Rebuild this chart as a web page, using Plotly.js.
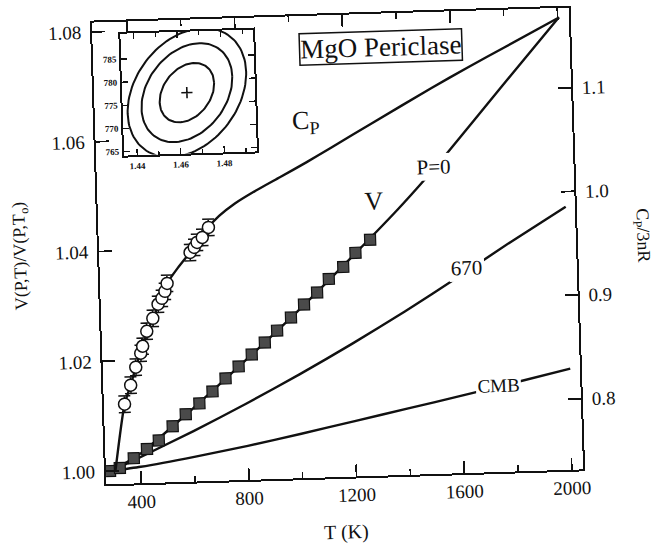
<!DOCTYPE html>
<html>
<head>
<meta charset="utf-8">
<script src="https://cdn.plot.ly/plotly-3.0.1.min.js"></script>
<style>
  html, body { margin:0; padding:0; background:#fff; overflow:hidden; }
  #plot { width:657px; height:550px; transform: rotate(-1.8deg); transform-origin: 337px 247px; }
</style>
</head>
<body>
<div id="plot"></div>
<script>
// ---- data ----
// V data (filled squares), left axis
const T_sq = [285, 322, 375, 425, 470, 523, 573, 625, 675, 725, 775, 825, 875, 922, 975, 1025, 1075, 1120, 1175, 1222, 1278];
const V_sq = [1.0000, 1.0005, 1.0022, 1.0038, 1.0053, 1.0078, 1.0099, 1.0118, 1.0139, 1.0162, 1.0183, 1.0204, 1.0225, 1.0246, 1.0269, 1.0292, 1.0313, 1.0337, 1.0358, 1.0383, 1.0406];

// P=0 curve, left axis
const T_p0 = [290, 400, 600, 800, 1000, 1200, 1383, 1487, 1561, 1782, 2005];
const V_p0 = [1.0000, 1.0030, 1.0109, 1.0193, 1.0280, 1.0372, 1.0459, 1.0512, 1.0552, 1.0676, 1.0800];

// 670 km curve, left axis
const T_670 = [290, 365, 600, 800, 1000, 1200, 1400, 1600, 1800, 2008];
const V_670 = [1.0000, 1.0016, 1.0068, 1.0115, 1.0165, 1.0218, 1.0274, 1.0333, 1.0394, 1.0455];

// CMB curve, left axis
const T_cmb = [290, 400, 600, 800, 1000, 1200, 1400, 1600, 1800, 2006];
const V_cmb = [1.0000, 1.0006, 1.0021, 1.0038, 1.0057, 1.0077, 1.0097, 1.0117, 1.0138, 1.0160];

// Cp curve, right axis (Cp/3nR)
const T_cpl = [305, 347, 372, 393, 421, 462, 498, 519, 560, 608, 655, 679, 720, 780, 850, 950, 1050, 1142, 1300, 1522, 1662, 1800, 2005];
const Cp_l  = [0.744, 0.8085, 0.8266, 0.8438, 0.8638, 0.8904, 0.9094, 0.9236, 0.938, 0.9527, 0.9668, 0.9763, 0.987, 0.9985, 1.009, 1.0225, 1.036, 1.0492, 1.072, 1.1037, 1.1228, 1.141, 1.168];

// Cp data (open circles with error bars), right axis
const T_c  = [347, 372, 393, 413, 421, 438, 462, 483, 498, 510, 519, 608, 624, 635, 655, 679];
const Cp_c = [0.8085, 0.8266, 0.8438, 0.8571, 0.8638, 0.8781, 0.8904, 0.9038, 0.9094, 0.9160, 0.9236, 0.9527, 0.9575, 0.9622, 0.9668, 0.9763];
const Cp_err = 0.008;

// tick labels
const xTicks = [400, 800, 1200, 1600, 2000];
const xTickText = ['400', '800', '1200', '1600', '2000'];
const yTicks = [1.00, 1.02, 1.04, 1.06, 1.08];
const yTickText = ['1.00', '1.02', '1.04', '1.06', '1.08'];
const y2Ticks = [0.8, 0.9, 1.0, 1.1];
const y2TickText = ['0.8', '0.9', '1.0', '1.1'];

// inset: confidence ellipses (parameters)
const ellCenter = [1.4637, 777.3];
const ellSigma = [0.0117, 5.9];
const ellRho = 0.3;
const ellLevels = [1.08, 1.8, 2.35];
const insetXTicks = [1.44, 1.46, 1.48];
const insetXTickText = ['1.44', '1.46', '1.48'];
const insetYTicks = [765, 770, 775, 780, 785];
const insetYTickText = ['765', '770', '775', '780', '785'];

// ---- build ----
const ink = '#111';
const FONT = 'Liberation Serif';

const traces = [];
const lineStyle = {color: ink, width: 2.4, shape: 'spline', smoothing: 0.6};
traces.push({x: T_p0, y: V_p0, mode: 'lines', line: lineStyle, hoverinfo: 'skip'});
traces.push({x: T_670, y: V_670, mode: 'lines', line: lineStyle, hoverinfo: 'skip'});
traces.push({x: T_cmb, y: V_cmb, mode: 'lines', line: lineStyle, hoverinfo: 'skip'});
traces.push({x: T_cpl, y: Cp_l, yaxis: 'y2', mode: 'lines', line: lineStyle, hoverinfo: 'skip'});
traces.push({x: T_sq, y: V_sq, mode: 'markers',
  marker: {symbol: 'square', size: 11, color: '#4a4a4a', line: {color: ink, width: 1.2}}});
traces.push({x: T_c, y: Cp_c, yaxis: 'y2', mode: 'markers',
  error_y: {type: 'constant', value: Cp_err, width: 6, thickness: 1.5, color: ink},
  marker: {symbol: 'circle', size: 12, color: '#fff', line: {color: ink, width: 1.5}}});

// inset ellipses (parametric shape from centre, sigmas, correlation)
const N = 120;
ellLevels.forEach(k => {
  const ex = [], ey = [];
  for (let i = 0; i <= N; i++) {
    const t = 2 * Math.PI * i / N;
    ex.push(ellCenter[0] + k * ellSigma[0] * Math.cos(t));
    ey.push(ellCenter[1] + k * ellSigma[1] * (ellRho * Math.cos(t) + Math.sqrt(1 - ellRho * ellRho) * Math.sin(t)));
  }
  traces.push({x: ex, y: ey, xaxis: 'x3', yaxis: 'y3', mode: 'lines', line: {color: ink, width: 2}, hoverinfo: 'skip'});
});
traces.push({x: [ellCenter[0]], y: [ellCenter[1]], xaxis: 'x3', yaxis: 'y3', mode: 'markers',
  marker: {symbol: 'cross-thin-open', size: 8, color: ink, line: {color: ink, width: 1.6}}});

const axBase = {showgrid: false, zeroline: false, showline: true, linewidth: 2, linecolor: ink,
  ticks: 'inside', tickwidth: 1.8, tickcolor: ink};
const tickFont = {family: FONT, size: 19, color: ink};
const insetTickFont = {family: FONT, size: 9, color: ink, weight: 'bold'};

const layout = {
  width: 657, height: 550,
  margin: {l: 99, r: 81, t: 15, b: 73},
  paper_bgcolor: '#fff', plot_bgcolor: 'rgba(0,0,0,0)',
  font: {family: FONT, size: 19, color: ink},
  showlegend: false,
  xaxis: Object.assign({}, axBase, {
    domain: [0, 1], range: [270, 2042], tickmode: 'array', tickvals: xTicks, ticktext: xTickText,
    ticklen: 12, mirror: 'ticks', tickfont: tickFont,
    minor: {tick0: 0, dtick: 200, ticks: 'inside', ticklen: 6, tickwidth: 1.5, tickcolor: ink},
    title: {text: 'T (K)', font: {family: FONT, size: 20}, standoff: 20}
  }),
  yaxis: Object.assign({}, axBase, {
    domain: [0, 1], range: [0.9976, 1.0817], tickmode: 'array', tickvals: yTicks, ticktext: yTickText,
    ticklen: 13, ticklabelstandoff: 5, tickfont: tickFont,
    title: {text: 'V(P,T)/V(P,T<sub>o</sub>)', font: {family: FONT, size: 18}, standoff: 24}
  }),
  yaxis2: Object.assign({}, axBase, {
    overlaying: 'y', side: 'right', range: [0.7318, 1.1772], tickmode: 'array',
    tickvals: y2Ticks, ticktext: y2TickText, ticklen: 13, ticklabelstandoff: 5, tickfont: tickFont
  }),
  xaxis3: Object.assign({}, axBase, {
    domain: [0.059, 0.3375], anchor: 'y3', range: [1.434, 1.495], tickmode: 'array',
    tickvals: insetXTicks, ticktext: insetXTickText, ticklen: 6, tickwidth: 1.3, mirror: 'ticks',
    minor: {dtick: 0.01, tick0: 1.44, ticks: 'inside', ticklen: 4, tickwidth: 1.2, tickcolor: ink},
    tickfont: insetTickFont, ticklabelstandoff: 1
  }),
  yaxis3: Object.assign({}, axBase, {
    domain: [0.71, 0.974], anchor: 'x3', range: [764.1, 790.5], tickmode: 'array',
    tickvals: insetYTicks, ticktext: insetYTickText, ticklen: 6, tickwidth: 1.3, mirror: 'ticks',
    tickfont: insetTickFont, ticklabelstandoff: 1
  }),
  annotations: [
    {x: 1341, y: 1.0756, xref: 'x', yref: 'y', text: 'MgO Periclase', showarrow: false,
     font: {family: FONT, size: 27}, bordercolor: ink, borderwidth: 1.5, borderpad: 0, bgcolor: '#fff'},
    {x: 1053, y: 1.0624, xref: 'x', yref: 'y', text: 'C<sub>P</sub>', showarrow: false, font: {family: FONT, size: 26}},
    {x: 1299, y: 1.0476, xref: 'x', yref: 'y', text: 'V', showarrow: false, font: {family: FONT, size: 26}},
    {x: 1522, y: 1.0535, xref: 'x', yref: 'y', text: 'P=0', showarrow: false, font: {family: FONT, size: 21}, bgcolor: '#fff'},
    {x: 1632, y: 1.0349, xref: 'x', yref: 'y', text: '670', showarrow: false, font: {family: FONT, size: 21}, bgcolor: '#fff'},
    {x: 1736, y: 1.0134, xref: 'x', yref: 'y', text: 'CMB', showarrow: false, font: {family: FONT, size: 19}, bgcolor: '#fff'},
    {x: 1.138, y: 0.5026, xref: 'paper', yref: 'paper', xanchor: 'center', yanchor: 'middle',
     text: 'C<sub>P</sub>/3nR', showarrow: false, textangle: 90, font: {family: FONT, size: 18}}
  ]
};

Plotly.newPlot('plot', traces, layout, {staticPlot: true, displayModeBar: false});
</script>
</body>
</html>
